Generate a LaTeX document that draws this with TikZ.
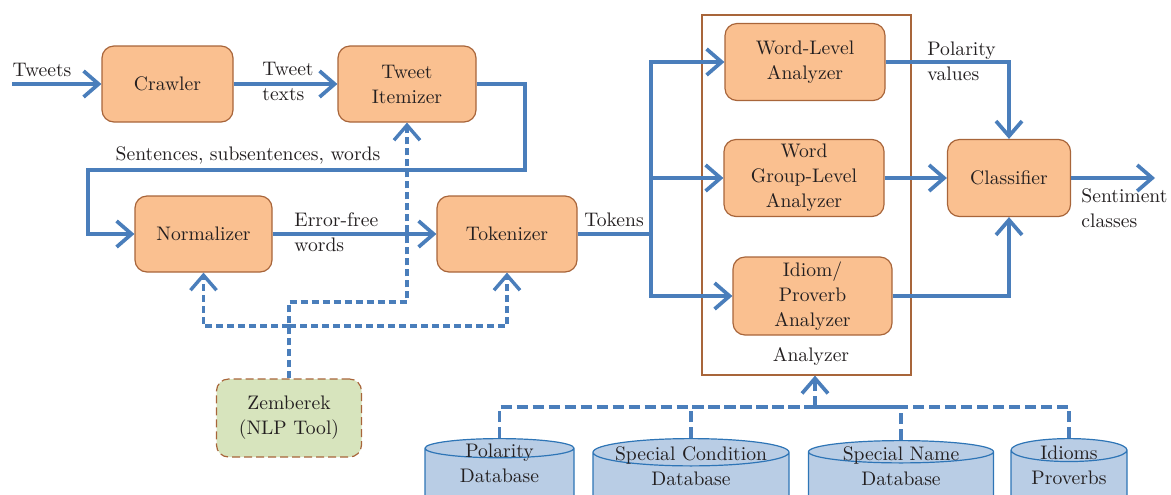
\documentclass[tikz,border=0pt]{standalone}
\usetikzlibrary{arrows.meta,positioning,shapes.geometric}
\definecolor{ink}{HTML}{231F20}
\definecolor{flow}{HTML}{4A7EBB}
\definecolor{peach}{HTML}{FAC090}
\definecolor{rust}{HTML}{A8653A}
\definecolor{sage}{HTML}{D7E4BD}
\definecolor{sky}{HTML}{B9CDE5}
\definecolor{dbedge}{HTML}{2E75B6}
\tikzset{
  every node/.style={font=\fontsize{9.8}{12.5}\selectfont,text=ink},
  wire/.style={line width=1.85pt,draw=flow},
  arr/.style={wire,-{Straight Barb[length=7.5pt,width=13pt]}},
  zarr/.style={arr,line width=1.7pt,dash pattern=on 3.5pt off 2pt},
  dbwire/.style={wire,dash pattern=on 5.5pt off 2.5pt},
  box/.style={draw=rust,line width=.6pt,rounded corners=6pt,fill=peach,align=center,inner sep=1pt,minimum height=38pt},
  tool/.style={box,fill=sage,dash pattern=on 4pt off 2pt,minimum height=39pt},
  db/.style={cylinder,shape border rotate=90,draw=dbedge,line width=.6pt,fill=sky,align=center,inner sep=1pt,text height=2.2pt,minimum height=36pt,anchor=north},
  frame/.style={draw=rust,line width=.6pt,inner sep=0},
  txt/.style={align=left,inner sep=0,anchor=west}
}
\begin{document}
\begin{tikzpicture}[x=0.5pt,y=-0.5pt]
  \clip (0,0) rectangle (1171,494);

  % processing chain
  \node[box,minimum width=65.5pt] (crawler) at (167.5,84) {Crawler};
  \node[box,minimum width=69pt] (itemizer) at (407,84) {Tweet\\Itemizer};
  \node[box,minimum width=68.5pt] (normalizer) at (203.5,234) {Normalizer};
  \node[box,minimum width=70pt] (tokenizer) at (507,234) {Tokenizer};

  % analyzer block
  \node[frame,minimum width=104.5pt,minimum height=180pt] (analyzer) at (806.5,195) {};
  \node[box,minimum width=80pt,minimum height=38.5pt] (wordlvl) at (805,62) {Word-Level\\Analyzer};
  \node[box,minimum width=80pt,minimum height=38.5pt] (grouplvl) at (804,178) {Word\\Group-Level\\Analyzer};
  \node[box,minimum width=79.5pt,minimum height=39pt] (idiom) at (812.5,296) {Idiom/\\Proverb\\Analyzer};
  \node (analyzerlbl) at (811,356) {Analyzer};
  \node[box,minimum width=61.5pt,minimum height=38.5pt] (classifier) at (1009,178) {Classifier};

  \node[tool,minimum width=72.5pt] (zemberek) at (289,418) {Zemberek\\(NLP Tool)};

  % databases
  \node[db,minimum width=74.5pt,aspect=.23] (polarity) at (499.5,438) {Polarity\\Database};
  \node[db,minimum width=98pt,aspect=.175] (specialcond) at (691,438) {Special Condition\\Database};
  \node[db,minimum width=92.5pt,aspect=.185] (specialname) at (901,440) {Special Name\\Database};
  \node[db,minimum width=58pt,aspect=.29] (idioms) at (1069,438) {Idioms\\Proverbs};

  % free ends and bends
  \coordinate (tweetsin) at (12,84);
  \coordinate (loopR) at (525,170);
  \coordinate (loopL) at (88,170);
  \coordinate (split) at (651,234);
  \coordinate (sentout) at (1155,178);
  \coordinate (ztop) at (407,302);
  \coordinate (zbus) at (289,326);
  \coordinate (dbbus) at (815,407);

  \draw[arr] (tweetsin) -- (crawler);
  \draw[arr] (crawler) -- (itemizer);
  \draw[arr] (itemizer.east) -| (loopR) -- (loopL) |- (normalizer.west);
  \draw[arr] (normalizer) -- (tokenizer);
  \draw[wire] (tokenizer) -- (split);
  \draw[arr] (split) |- (wordlvl.west);
  \draw[arr] (split) |- (grouplvl.west);
  \draw[arr] (split) |- (idiom.west);
  \draw[arr] (wordlvl.east) -| (classifier.north);
  \draw[arr] (grouplvl) -- (classifier);
  \draw[arr] (idiom.east) -| (classifier.south);
  \draw[arr] (classifier) -- (sentout);

  % Zemberek support
  \draw[zarr] (zemberek.north) |- (ztop) -- (itemizer.south);
  \draw[zarr] (zbus) -| (normalizer.south);
  \draw[zarr] (zbus) -| (tokenizer.south);

  % database feeds
  \foreach \d in {polarity,specialcond,specialname,idioms}
    \draw[dbwire] (\d.north) |- (dbbus);
  \draw[dbwire,-{Straight Barb[length=7.5pt,width=13pt]}] (dbbus) -- (dbbus |- analyzer.south);

  % edge labels
  \node[inner sep=0] (tweetslbl) at (42,70) {Tweets};
  \node[txt] (textslbl) at (262,81) {Tweet\\texts};
  \node[inner sep=0] (sentlbl) at (248,155) {Sentences, subsentences, words};
  \node[txt] (errlbl) at (294,232) {Error-free\\words};
  \node[inner sep=0] (tokenslbl) at (614,220) {Tokens};
  \node[txt] (pollbl) at (927,61) {Polarity\\values};
  \node[txt] (classlbl) at (1081,208) {Sentiment\\classes};
\end{tikzpicture}
\end{document}
